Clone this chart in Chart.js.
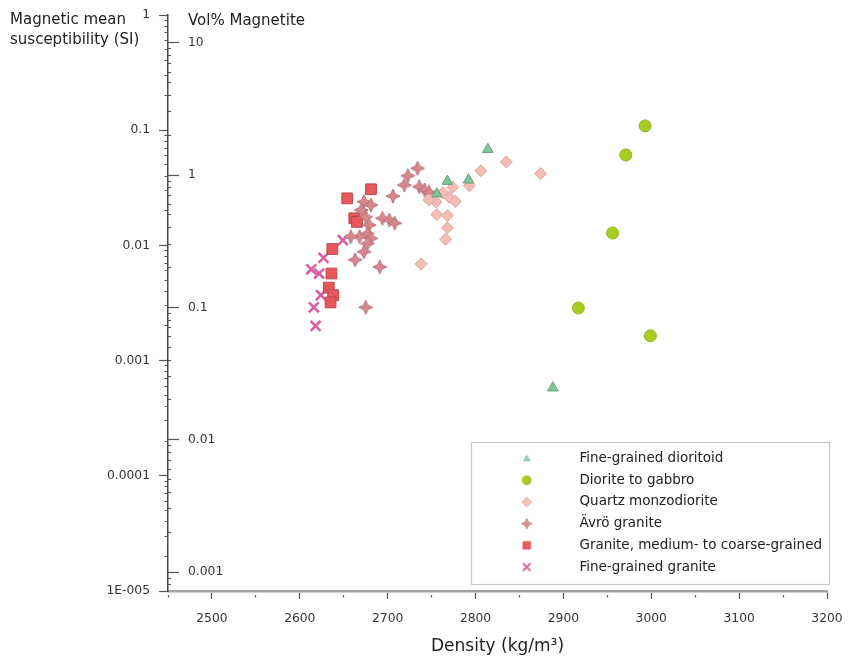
<!DOCTYPE html>
<html>
<head>
<meta charset="utf-8">
<title>Magnetic susceptibility versus density</title>
<script src="https://cdn.jsdelivr.net/npm/chart.js@4/dist/chart.umd.min.js"></script>
<style>
  html, body { margin: 0; padding: 0; background: #ffffff; }
  canvas { display: block; }
</style>
</head>
<body>
<canvas id="chart" width="848" height="661"></canvas>
<script>
// ---- data -------------------------------------------------------------
const seriesNames = [
  'Fine-grained dioritoid',
  'Diorite to gabbro',
  'Quartz monzodiorite',
  'Ävrö granite',
  'Granite, medium- to coarse-grained',
  'Fine-grained granite'
];

// density (kg/m3) and magnetic mean susceptibility (SI) per rock type
const dioritoidDensity = [2814, 2768, 2792, 2756, 2888];
const dioritoidSusc    = [0.068, 0.036, 0.037, 0.028, 0.00058];

const gabbroDensity = [2993, 2971, 2956, 2917, 2999];
const gabbroSusc    = [0.109, 0.061, 0.0128, 0.00286, 0.00164];

const monzodioriteDensity = [2835, 2806, 2874, 2774, 2793, 2763, 2770, 2777, 2755, 2747, 2756, 2768, 2768, 2766, 2738];
const monzodioriteSusc    = [0.053, 0.0445, 0.042, 0.032, 0.033, 0.0287, 0.0262, 0.0241, 0.0238, 0.0248, 0.0185, 0.0182, 0.0142, 0.0113, 0.0069];

const avroDensity = [2734, 2723, 2719, 2736, 2742, 2747, 2706, 2673, 2681, 2670, 2675, 2694, 2702, 2708, 2679, 2677, 2668, 2658, 2681, 2677, 2673, 2663, 2691, 2675];
const avroSusc    = [0.0467, 0.0403, 0.0334, 0.0323, 0.0303, 0.029, 0.0268, 0.0239, 0.0224, 0.0203, 0.0177, 0.0172, 0.0166, 0.0156, 0.0150, 0.0127, 0.0119, 0.0119, 0.0115, 0.0104, 0.0088, 0.0075, 0.0065, 0.0029];

const coarseGraniteDensity = [2681, 2654, 2662, 2665, 2637, 2636, 2633, 2638, 2635];
const coarseGraniteSusc    = [0.0307, 0.0256, 0.0172, 0.016, 0.0093, 0.0057, 0.0043, 0.0037, 0.0032];

const fineGraniteDensity = [2649, 2627, 2613, 2622, 2624, 2616, 2618];
const fineGraniteSusc    = [0.0111, 0.0078, 0.0062, 0.0057, 0.0037, 0.0029, 0.0020];

// axes
const densityRange = [2450, 3200];
const densityTicks = [2500, 2600, 2700, 2800, 2900, 3000, 3100, 3200];
const susceptibilityRange = [1e-5, 1];
const susceptibilityTicks = [1e-5, 1e-4, 1e-3, 1e-2, 1e-1, 1];
const susceptibilityTickLabels = ['1E-005', '0.0001', '0.001', '0.01', '0.1', '1'];
const magnetiteRange = [0.00072, 16.2];
const magnetiteTicks = [0.001, 0.01, 0.1, 1, 10];
const magnetiteTickLabels = ['0.001', '0.01', '0.1', '1', '10'];

const susceptibilityTitle = ['Magnetic mean', 'susceptibility (SI)'];
const magnetiteTitle = 'Vol% Magnetite';
const densityTitle = 'Density (kg/m³)';

// ---- helpers ----------------------------------------------------------
const FONT = "'DejaVu Sans', 'Liberation Sans', Arial, sans-serif";
Chart.defaults.font.family = FONT;
Chart.defaults.color = '#333';

const toPoints = (xs, ys) => xs.map((x, i) => ({ x, y: ys[i] }));

function sameValue(a, b) { return Math.abs(a - b) <= Math.abs(b) * 1e-6; }

function labelFor(value, ticks, labels) {
  const i = ticks.findIndex(t => sameValue(value, t));
  return i >= 0 ? labels[i] : '';
}

// decade ticks plus the 2..9 subdivisions inside the scale range
function logTicks(scale, majors) {
  const out = [];
  const lo = Math.floor(Math.log10(scale.min));
  const hi = Math.ceil(Math.log10(scale.max));
  for (let e = lo; e <= hi; e++) {
    for (let s = 1; s < 10; s++) {
      const v = parseFloat((s * Math.pow(10, e)).toPrecision(6));
      if (v >= scale.min * (1 - 1e-9) && v <= scale.max * (1 + 1e-9)) {
        out.push({ value: v, major: majors.some(m => sameValue(v, m)) });
      }
    }
  }
  return out;
}

// keep tick labels from widening the plot margins
function noEdgePadding(s) {
  s.paddingTop = 0; s.paddingBottom = 0; s.paddingLeft = 0; s.paddingRight = 0;
}

// small drawn markers (used by the star series and by the legend)
function makeMarker(shape, size, fill, stroke, lw) {
  const c = document.createElement('canvas');
  const dim = Math.ceil(size + 2 * lw + 2);
  c.width = c.height = dim;
  const g = c.getContext('2d');
  const m = dim / 2, r = size / 2;
  g.fillStyle = fill; g.strokeStyle = stroke; g.lineWidth = lw;
  g.beginPath();
  if (shape === 'triangle') {
    g.moveTo(m, m - r); g.lineTo(m + r * 0.95, m + r * 0.7); g.lineTo(m - r * 0.95, m + r * 0.7); g.closePath();
  } else if (shape === 'circle') {
    g.arc(m, m, r, 0, Math.PI * 2);
  } else if (shape === 'diamond') {
    g.moveTo(m, m - r); g.lineTo(m + r, m); g.lineTo(m, m + r); g.lineTo(m - r, m); g.closePath();
  } else if (shape === 'star') {
    const ri = r * 0.45;
    for (let k = 0; k < 8; k++) {
      const a = k * Math.PI / 4 - Math.PI / 2;
      const rr = k % 2 ? ri : r;
      g.lineTo(m + rr * Math.cos(a), m + rr * Math.sin(a));
    }
    g.closePath();
  } else if (shape === 'square') {
    g.rect(m - r, m - r, 2 * r, 2 * r);
  } else if (shape === 'cross') {
    g.moveTo(m - r, m - r); g.lineTo(m + r, m + r);
    g.moveTo(m + r, m - r); g.lineTo(m - r, m + r);
    g.lineCap = 'round';
    g.stroke();
    return c;
  }
  g.fill();
  if (lw > 0) g.stroke();
  return c;
}

const avroStar = makeMarker('star', 14, '#d8878b', '#b1737a', 1);

const legendMarkers = [
  makeMarker('triangle', 7, '#9fd2b0', '#8cbf9f', 0.8),
  makeMarker('circle', 9, '#a9cd1f', '#98b82a', 0.8),
  makeMarker('diamond', 10, '#f5c3bc', '#e2b0aa', 0.8),
  makeMarker('star', 11, '#d7959a', '#c48589', 0.8),
  makeMarker('square', 7.5, '#e8585c', '#c84c50', 0.8),
  makeMarker('cross', 6.5, '#d563a4', '#d563a4', 2)
];

// ---- plugins ----------------------------------------------------------
// places the legend in the lower right of the plot area and frames it
const legendFrame = {
  id: 'legendFrame',
  afterLayout(chart) {
    const lg = chart.legend;
    if (!lg || !lg.columnSizes || !lg.columnSizes.length) return;
    const area = chart.chartArea;
    const pad = lg.options.labels.padding;
    const h = lg.columnSizes[0].height + pad;
    const w = lg.width;
    lg.left = area.right + 5 - w;
    lg.right = lg.left + w;
    lg.top = area.bottom - 9 - h;
    lg.height = h + 1;
    lg.bottom = lg.top + lg.height;
    lg.frame = {
      left: Math.round(lg.left) - 1,
      top: Math.round(lg.top) - 2,
      right: Math.round(area.right) + 2,
      bottom: Math.round(area.bottom) - 7
    };
  },
  afterDraw(chart) {
    const f = chart.legend && chart.legend.frame;
    if (!f) return;
    const { ctx } = chart;
    ctx.save();
    ctx.strokeStyle = '#c9c9c9';
    ctx.lineWidth = 1.2;
    ctx.strokeRect(f.left + 0.5, f.top + 0.5, f.right - f.left, f.bottom - f.top);
    ctx.restore();
  }
};

// horizontal captions above both vertical scales
const axisCaptions = {
  id: 'axisCaptions',
  afterDraw(chart) {
    const { ctx, chartArea } = chart;
    const y2 = chart.scales.y2;
    ctx.save();
    ctx.font = '15px ' + FONT;
    ctx.fillStyle = '#222';
    ctx.textBaseline = 'middle';
    ctx.textAlign = 'left';
    susceptibilityTitle.forEach((line, i) => ctx.fillText(line, 10, chartArea.top + 5 + i * 20));
    ctx.fillText(magnetiteTitle, y2.right + 20, chartArea.top + 6);
    ctx.restore();
  }
};

// ---- chart ------------------------------------------------------------
const minorDash = (gap) => (c) => (c.tick && c.tick.major) ? [] : [0, gap, 20];

new Chart(document.getElementById('chart'), {
  type: 'scatter',
  data: {
    datasets: [
      { label: seriesNames[0], data: toPoints(dioritoidDensity, dioritoidSusc),
        pointStyle: 'triangle', pointRadius: 6.2, backgroundColor: '#80c598', borderColor: '#6f9f80', borderWidth: 1 },
      { label: seriesNames[1], data: toPoints(gabbroDensity, gabbroSusc),
        pointStyle: 'circle', pointRadius: 6, backgroundColor: '#a9cd1f', borderColor: '#93b126', borderWidth: 1 },
      { label: seriesNames[2], data: toPoints(monzodioriteDensity, monzodioriteSusc),
        pointStyle: 'rectRot', pointRadius: 6, backgroundColor: '#f5bdb4', borderColor: '#d9a7a1', borderWidth: 1 },
      { label: seriesNames[3], data: toPoints(avroDensity, avroSusc),
        pointStyle: avroStar, backgroundColor: '#d8878b', borderColor: '#b1737a' },
      { label: seriesNames[4], data: toPoints(coarseGraniteDensity, coarseGraniteSusc),
        pointStyle: 'rect', pointRadius: 7.6, backgroundColor: '#e9575b', borderColor: '#b84a4e', borderWidth: 1 },
      { label: seriesNames[5], data: toPoints(fineGraniteDensity, fineGraniteSusc),
        pointStyle: 'crossRot', pointRadius: 7, backgroundColor: '#d860a2', borderColor: '#d860a2', borderWidth: 2.6 }
    ]
  },
  options: {
    responsive: false,
    animation: false,
    events: [],
    layout: { padding: { left: 0, top: 15, right: 21, bottom: 0 } },
    plugins: {
      tooltip: { enabled: false },
      title: { display: false },
      legend: {
        position: 'chartArea',
        align: 'start',
        labels: {
          usePointStyle: true,
          pointStyleWidth: 92,
          padding: 8.2,
          color: '#222',
          textAlign: 'left',
          font: { size: 13.5 },
          generateLabels: (chart) => chart.data.datasets.map((ds, i) => ({
            text: ds.label,
            pointStyle: legendMarkers[i],
            datasetIndex: i,
            hidden: false,
            fillStyle: ds.backgroundColor,
            strokeStyle: ds.borderColor,
            lineWidth: 0,
            fontColor: '#222'
          }))
        }
      }
    },
    scales: {
      x: {
        type: 'linear',
        position: 'bottom',
        min: densityRange[0],
        max: densityRange[1],
        afterFit: (s) => { s.height = 70; noEdgePadding(s); },
        border: { color: '#a2a2a2', width: 2.6 },
        grid: {
          drawOnChartArea: false,
          tickLength: 8,
          tickWidth: 1.2,
          tickColor: '#555',
          tickBorderDash: (c) => (c.tick && densityTicks.includes(c.tick.value)) ? [] : [0, 2.6, 2.4, 20]
        },
        ticks: {
          stepSize: 50,
          autoSkip: false,
          maxRotation: 0,
          padding: 12,
          color: '#333',
          font: { size: 12.3 },
          callback: (v) => densityTicks.includes(v) ? String(v) : ''
        },
        title: {
          display: true,
          text: densityTitle,
          color: '#222',
          font: { size: 17 },
          padding: { top: 0, bottom: 4 }
        }
      },
      y: {
        type: 'logarithmic',
        position: 'left',
        weight: 2,
        min: susceptibilityRange[0],
        max: susceptibilityRange[1],
        afterBuildTicks: (s) => { s.ticks = logTicks(s, susceptibilityTicks); },
        afterFit: (s) => { s.width = 168; noEdgePadding(s); },
        border: { color: '#474747', width: 1.5 },
        grid: {
          drawOnChartArea: false,
          tickLength: 9,
          tickWidth: 1.2,
          tickColor: '#555',
          tickBorderDash: minorDash(5.5)
        },
        ticks: {
          autoSkip: false,
          padding: 9,
          color: '#333',
          font: { size: 12.3 },
          callback: (v) => labelFor(v, susceptibilityTicks, susceptibilityTickLabels)
        }
      },
      y2: {
        type: 'logarithmic',
        position: 'left',
        weight: 1,
        min: magnetiteRange[0],
        max: magnetiteRange[1],
        afterBuildTicks: (s) => { s.ticks = logTicks(s, magnetiteTicks); },
        afterFit: (s) => { s.width = 0; noEdgePadding(s); },
        border: { display: false },
        grid: {
          drawOnChartArea: false,
          tickLength: -11,
          tickWidth: 1.2,
          tickColor: '#555',
          tickBorderDash: minorDash(8)
        },
        ticks: {
          mirror: true,
          autoSkip: false,
          padding: 20,
          color: '#333',
          font: { size: 12.3 },
          callback: (v) => labelFor(v, magnetiteTicks, magnetiteTickLabels)
        }
      }
    }
  },
  plugins: [legendFrame, axisCaptions]
});
</script>
</body>
</html>
